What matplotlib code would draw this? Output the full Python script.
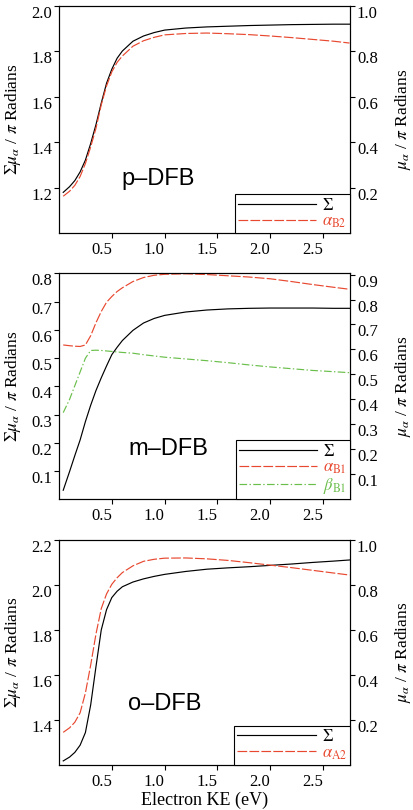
"""
Three stacked panels (p-, m-, o-DFB): summed eigenphase (left axis) and single
eigenphases (right axis) against electron kinetic energy.
"""
import matplotlib
matplotlib.use("Agg")
import matplotlib.pyplot as plt

plt.rcParams["font.family"] = ["Liberation Serif", "DejaVu Serif"]
plt.rcParams["mathtext.fontset"] = "stix"
plt.rcParams["lines.scale_dashes"] = False

RED = "#e8482f"
GREEN = "#6abf4b"
LONG_DASH = (0, (7, 1.6))
DASH_DOT = (0, (5.5, 1.7, 1.0, 1.7))

# electron KE grid (eV), shared by all curves
ke = [0.04, 0.10, 0.15, 0.20, 0.25, 0.30, 0.35, 0.40, 0.45, 0.50, 0.55, 0.60,
      0.70, 0.80, 0.90, 1.00, 1.20, 1.40, 1.60, 1.80, 2.00, 2.20, 2.40, 2.60, 2.75]

# p-DFB
p_sum = [1.180, 1.205, 1.232, 1.270, 1.322, 1.395, 1.478, 1.573, 1.660, 1.722, 1.770, 1.802,
         1.845, 1.868, 1.883, 1.894, 1.903, 1.908, 1.911, 1.914, 1.916, 1.918, 1.919, 1.920, 1.920]
p_aB2 = [0.163, 0.185, 0.211, 0.250, 0.307, 0.380, 0.462, 0.565, 0.648, 0.710, 0.752, 0.780,
         0.823, 0.847, 0.862, 0.873, 0.879, 0.881, 0.878, 0.874, 0.868, 0.861, 0.853, 0.845, 0.837]

# m-DFB
m_sum = [0.032, 0.098, 0.155, 0.210, 0.275, 0.333, 0.385, 0.430, 0.472, 0.512, 0.538, 0.562,
         0.598, 0.624, 0.640, 0.651, 0.663, 0.670, 0.674, 0.676, 0.677, 0.677, 0.677, 0.676, 0.676]
m_aB1 = [0.618, 0.615, 0.613, 0.612, 0.618, 0.655, 0.707, 0.752, 0.789, 0.812, 0.832, 0.847,
         0.872, 0.888, 0.897, 0.901, 0.903, 0.900, 0.895, 0.890, 0.883, 0.872, 0.860, 0.849, 0.841]
m_bB1 = [0.347, 0.400, 0.455, 0.510, 0.565, 0.596, 0.597, 0.596, 0.594, 0.592, 0.590, 0.588,
         0.585, 0.579, 0.574, 0.569, 0.562, 0.555, 0.547, 0.538, 0.530, 0.523, 0.516, 0.511, 0.507]

# o-DFB
o_sum = [1.218, 1.235, 1.256, 1.288, 1.344, 1.467, 1.637, 1.800, 1.890, 1.944, 1.972, 1.992,
         2.013, 2.027, 2.038, 2.047, 2.060, 2.070, 2.076, 2.081, 2.087, 2.093, 2.100, 2.106, 2.111]
o_aA2 = [0.145, 0.165, 0.190, 0.232, 0.320, 0.444, 0.582, 0.695, 0.760, 0.803, 0.832, 0.855,
         0.885, 0.905, 0.914, 0.919, 0.920, 0.916, 0.909, 0.899, 0.888, 0.877, 0.865, 0.853, 0.844]

x_ticks = [0.5, 1.0, 1.5, 2.0, 2.5]

fig = plt.figure(figsize=(4.14, 8.10), dpi=100)


def panel(rect, ylim_l, yt_l, ylim_r, yt_r, curves, name, name_xy, last=False):
    ax = fig.add_axes(rect)
    ax2 = ax.twinx()
    handles = []
    for side, y, color, ls, label in curves:
        a = ax if side == "l" else ax2
        ln, = a.plot(ke, y, color=color, ls=ls, lw=0.85, label=label)
        handles.append(ln)

    ax.set_xlim(0, 2.755)
    ax.set_ylim(*ylim_l)
    ax2.set_ylim(*ylim_r)
    ax.set_xticks(x_ticks, labels=[f"{t:.1f}" for t in x_ticks])
    ax.set_yticks(yt_l, labels=[f"{t:.1f}" for t in yt_l])
    ax2.set_yticks(yt_r, labels=[f"{t:.1f}" for t in yt_r])

    for a in (ax, ax2):
        a.tick_params(direction="out", length=3.5, width=0.8, labelsize=12, pad=1.5)
        for s in a.spines.values():
            s.set_linewidth(0.8)
    ax.tick_params(axis="x", pad=3)
    # labels hang below / left of their ticks, as in the original
    for lab in ax.get_xticklabels():
        lab.set_ha("right")
    for lab in ax.get_yticklabels() + ax2.get_yticklabels():
        lab.set_va("top")

    ax.set_ylabel(r"$\Sigma\mu_\alpha$ / $\pi$ Radians", fontsize=12.5)
    ax.yaxis.set_label_coords(-0.122, 0.5)
    ax2.set_ylabel(r"$\mu_\alpha$ / $\pi$ Radians", fontsize=12.5, rotation=90)
    ax2.yaxis.set_label_coords(1.147, 0.5)
    if last:
        ax.set_xlabel("Electron KE (eV)", fontsize=13, labelpad=1)

    ax.text(*name_xy, name, transform=ax.transAxes, ha="center", va="baseline",
            fontsize=17, family="Liberation Sans")

    leg = ax2.legend(handles=handles, loc="lower right", bbox_to_anchor=(1, 0),
                     borderaxespad=0, fancybox=False, framealpha=1, edgecolor="k",
                     fontsize=12, handlelength=4.7, handletextpad=0.35,
                     labelspacing=0.0, borderpad=0.2,
                     labelcolor=[c[2] for c in curves])
    leg.get_frame().set_linewidth(0.8)
    return ax, ax2


panel([0.1425, 0.712, 0.703, 0.2806], (1.0, 2.0), [1.2, 1.4, 1.6, 1.8, 2.0],
      (0.0, 1.0), [0.2, 0.4, 0.6, 0.8, 1.0],
      [("l", p_sum, "black", "-", r"$\Sigma$"),
       ("r", p_aB2, RED, LONG_DASH, r"$\alpha_{\rm B2}$")],
      "p\u2013DFB", (0.341, 0.2125))

panel([0.1425, 0.3836, 0.703, 0.279], (0.0, 0.8), [0.1, 0.2, 0.3, 0.4, 0.5, 0.6, 0.7, 0.8],
      (0.0, 0.905), [0.1, 0.2, 0.3, 0.4, 0.5, 0.6, 0.7, 0.8, 0.9],
      [("l", m_sum, "black", "-", r"$\Sigma$"),
       ("r", m_aB1, RED, LONG_DASH, r"$\alpha_{\rm B1}$"),
       ("r", m_bB1, GREEN, DASH_DOT, r"$\beta_{\rm B1}$")],
      "m\u2013DFB", (0.375, 0.196))

panel([0.1425, 0.0556, 0.703, 0.2778], (1.2, 2.2), [1.4, 1.6, 1.8, 2.0, 2.2],
      (0.0, 1.0), [0.2, 0.4, 0.6, 0.8, 1.0],
      [("l", o_sum, "black", "-", r"$\Sigma$"),
       ("r", o_aA2, RED, LONG_DASH, r"$\alpha_{\rm A2}$")],
      "o\u2013DFB", (0.362, 0.244), last=True)

fig.savefig("out.png", dpi=100)
